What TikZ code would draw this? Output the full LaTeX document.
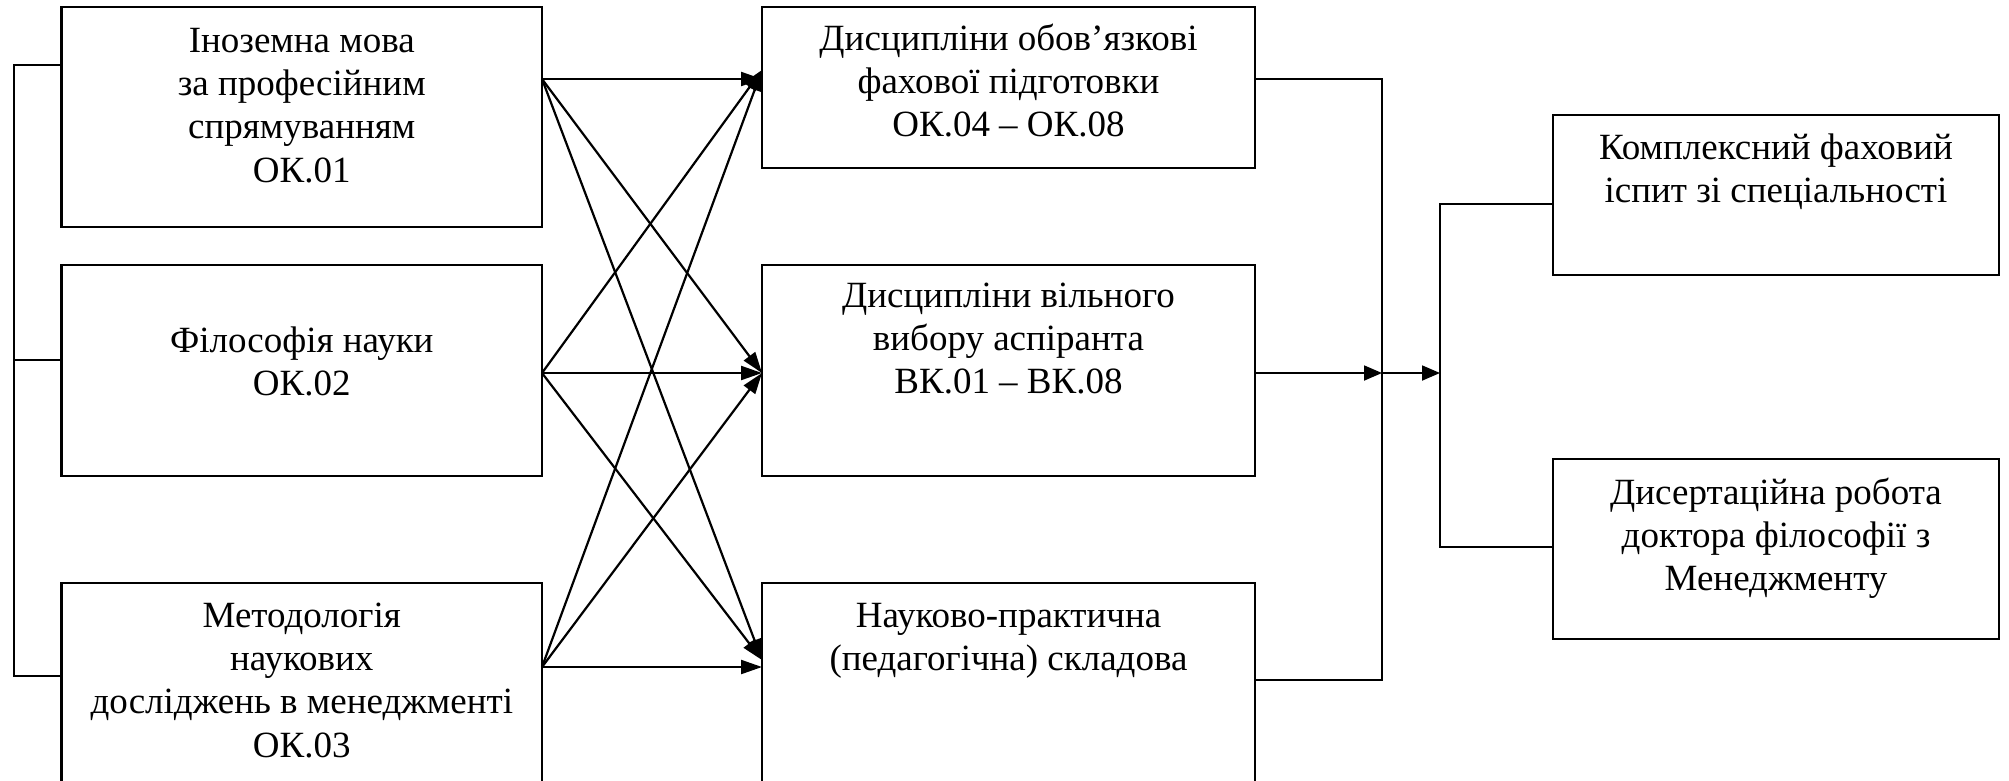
\documentclass[tikz,border=0pt]{standalone}
\usepackage{fontspec}
\setmainfont{Liberation Serif}
\usetikzlibrary{arrows.meta}
\begin{document}
\begin{tikzpicture}[x=1pt,y=1pt,
  box/.style={draw, line width=2.2pt, inner sep=0pt, outer sep=0pt, anchor=north west},
  lbl/.style={align=center, inner sep=0pt, anchor=north, font=\fontsize{37}{43.3}\selectfont},
  conn/.style={line width=2.2pt},
  arr/.style={conn, -{Triangle[length=21pt,width=14pt]}},
  arrs/.style={line width=1.8pt, -{Triangle[length=18pt,width=15pt]}},
  thin/.style={line width=1.8pt}]
\useasboundingbox (0,0) rectangle (2009,-780);
\clip (0,0) rectangle (2009,-780);
% left column
\node[box, minimum width=480.5pt, minimum height=220pt] (b1) at (61.5,-7) {};
\node[box, minimum width=480.5pt, minimum height=211pt] (b2) at (61.5,-265) {};
\node[box, minimum width=480.5pt, minimum height=220pt] (b3) at (61.5,-583) {};
% middle column
\node[box, minimum width=493pt, minimum height=161pt] (b4) at (762,-7) {};
\node[box, minimum width=493pt, minimum height=211pt] (b5) at (762,-265) {};
\node[box, minimum width=493pt, minimum height=220pt] (b6) at (762,-583) {};
% right column
\node[box, minimum width=446pt, minimum height=160pt] (b7) at (1553,-115) {};
\node[box, minimum width=446pt, minimum height=180pt] (b8) at (1553,-459) {};
% texts
\node[lbl] (t1) at ([yshift=-14.7pt]b1.north) {\strut Іноземна мова\\\strut за професійним\\\strut спрямуванням\\\strut ОК.01};
\node[lbl] (t2) at ([yshift=-56.7pt]b2.north) {\strut Філософія науки\\\strut ОК.02};
\node[lbl] (t3) at ([yshift=-13.7pt]b3.north) {\strut Методологія\\\strut наукових\\\strut досліджень в менеджменті\\\strut ОК.03};
\node[lbl] (t4) at ([yshift=-12.7pt]b4.north) {\strut Дисципліни обов’язкові\\\strut фахової підготовки\\\strut ОК.04 – ОК.08};
\node[lbl] (t5) at ([yshift=-11.7pt]b5.north) {\strut Дисципліни вільного\\\strut вибору аспіранта\\\strut ВК.01 – ВК.08};
\node[lbl] (t6) at ([yshift=-13.7pt]b6.north) {\strut Науково-практична\\\strut (педагогічна) складова};
\node[lbl] (t7) at ([yshift=-13.7pt]b7.north) {\strut Комплексний фаховий\\\strut іспит зі спеціальності};
\node[lbl] (t8) at ([yshift=-14.7pt]b8.north) {\strut Дисертаційна робота\\\strut доктора філософії з\\\strut Менеджменту};
% left bracket
\coordinate (lb) at (14,0);
\coordinate (l1) at ([yshift=-58pt]b1.north west);
\coordinate (l2) at ([yshift=-95pt]b2.north west);
\coordinate (l3) at ([yshift=-93pt]b3.north west);
\draw[thin] (l1) -- (l1 -| lb) -- (l3 -| lb) -- (l3);
\draw[thin] (l2) -- (l2 -| lb);
% outputs of left boxes
\coordinate (o1) at ([yshift=-72pt]b1.north east);
\coordinate (o2) at ([yshift=-108pt]b2.north east);
\coordinate (o3) at ([yshift=-84pt]b3.north east);
% inputs of middle boxes
\coordinate (i4h) at ([yshift=-72pt]b4.north west);
\coordinate (i4d) at ([yshift=-63pt]b4.north west);
\coordinate (i5) at ([yshift=-108pt]b5.north west);
\coordinate (i6h) at ([yshift=-84pt]b6.north west);
\coordinate (i6d) at ([yshift=-77pt]b6.north west);
\draw[arr] (o1) -- (i4h);
\draw[arr] (o1) -- (i5);
\draw[arr] (o1) -- (i6d);
\draw[arr] (o2) -- (i4d);
\draw[arr] (o2) -- (i5);
\draw[arr] (o2) -- (i6d);
\draw[arr] (o3) -- (i4d);
\draw[arr] (o3) -- (i5);
\draw[arr] (o3) -- (i6h);
% right side collector
\coordinate (cx) at (1382,0);
\coordinate (dx) at (1440,0);
\coordinate (p4) at ([yshift=-72pt]b4.north east);
\coordinate (p5) at ([yshift=-108pt]b5.north east);
\coordinate (p6) at ([yshift=-97pt]b6.north east);
\draw[thin] (p4) -- (p4 -| cx) -- (p6 -| cx) -- (p6);
\draw[arrs] (p5) -- (p5 -| cx);
\draw[arrs] (p5 -| cx) -- (p5 -| dx);
\coordinate (e7) at ([yshift=-89pt]b7.north west);
\coordinate (e8) at ([yshift=-88pt]b8.north west);
\draw[thin] (e7) -- (e7 -| dx) -- (e8 -| dx) -- (e8);
\end{tikzpicture}
\end{document}
